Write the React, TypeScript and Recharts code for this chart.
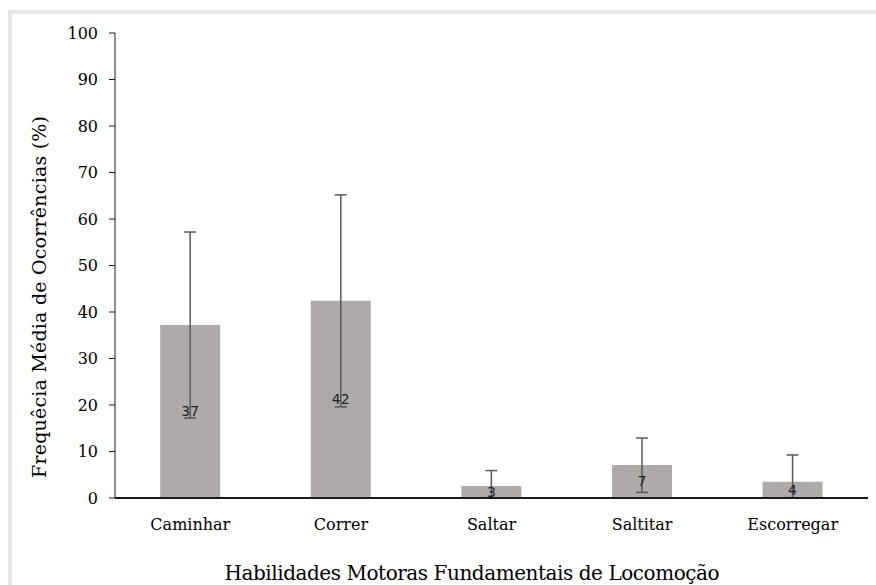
import React from "react";
import { Bar, BarChart, ErrorBar, LabelList, XAxis, YAxis } from "recharts";

const categories = ["Caminhar", "Correr", "Saltar", "Saltitar", "Escorregar"];
const means = [37.2, 42.4, 2.6, 7.1, 3.5];
const errLow = [20, 22.8, 2.6, 5.9, 3.5];
const errHigh = [20, 22.8, 3.3, 5.8, 5.75];
const yTicks = [0, 10, 20, 30, 40, 50, 60, 70, 80, 90, 100];

const yTitle = "Frequêcia Média de Ocorrências (%)";
const xTitle = "Habilidades Motoras Fundamentais de Locomoção";

// only DejaVu Serif actually resolves to a serif face here
const serif = "DejaVu Serif";

const data = categories.map((name, i) => ({
  name,
  value: means[i],
  err: [errLow[i], errHigh[i]]
}));

export default function App() {
  return (
    <div style={{ position: "absolute", left: 0, top: 0, width: 876, height: 585, background: "#fff" }}>
      <div
        style={{
          position: "absolute",
          left: 8,
          top: 10,
          width: 868,
          height: 575,
          borderTop: "4px solid #e6e6e6",
          borderLeft: "4px solid #e6e6e6",
          boxSizing: "border-box"
        }}
      />
      <div style={{ position: "absolute", left: 0, top: 0 }}>
        <BarChart width={876} height={585} data={data} margin={{ top: 33, right: 8, left: 0, bottom: 0 }} barCategoryGap="30%">
          <XAxis
            dataKey="name"
            height={87}
            axisLine={{ stroke: "#1a1a1a", strokeWidth: 2 }}
            tickLine={false}
            tickSize={6}
            tickMargin={15}
            tick={{ fill: "#000", fontSize: 16, fontFamily: serif }}
            label={{
              content: () => (
                <text
                  x={472}
                  y={573}
                  textAnchor="middle"
                  dominantBaseline="central"
                  fill="#000"
                  fontSize={20}
                  fontFamily={serif}
                  textLength={495}
                  lengthAdjust="spacing"
                >
                  {xTitle}
                </text>
              )
            }}
          />
          <YAxis
            width={115}
            domain={[0, 100]}
            ticks={yTicks}
            interval={0}
            axisLine={{ stroke: "#1a1a1a" }}
            tickLine={{ stroke: "#1a1a1a" }}
            tickSize={6}
            tickMargin={11}
            tick={{ fill: "#000", fontSize: 16, fontFamily: serif }}
            label={{
              content: () => (
                <text
                  x={39}
                  y={297}
                  transform="rotate(-90, 39, 297)"
                  textAnchor="middle"
                  dominantBaseline="central"
                  fill="#000"
                  fontSize={19}
                  fontFamily={serif}
                  textLength={362}
                  lengthAdjust="spacing"
                >
                  {yTitle}
                </text>
              )
            }}
          />
          <Bar dataKey="value" fill="#aeaaaa" isAnimationActive={false}>
            <ErrorBar dataKey="err" width={6} stroke="#595959" strokeWidth={1.5} />
            <LabelList
              dataKey="value"
              position="center"
              formatter={(v: number) => Math.round(v)}
              fill="#222"
              fontSize={14}
              fontFamily="DejaVu Sans"
            />
          </Bar>
        </BarChart>
      </div>
    </div>
  );
}
